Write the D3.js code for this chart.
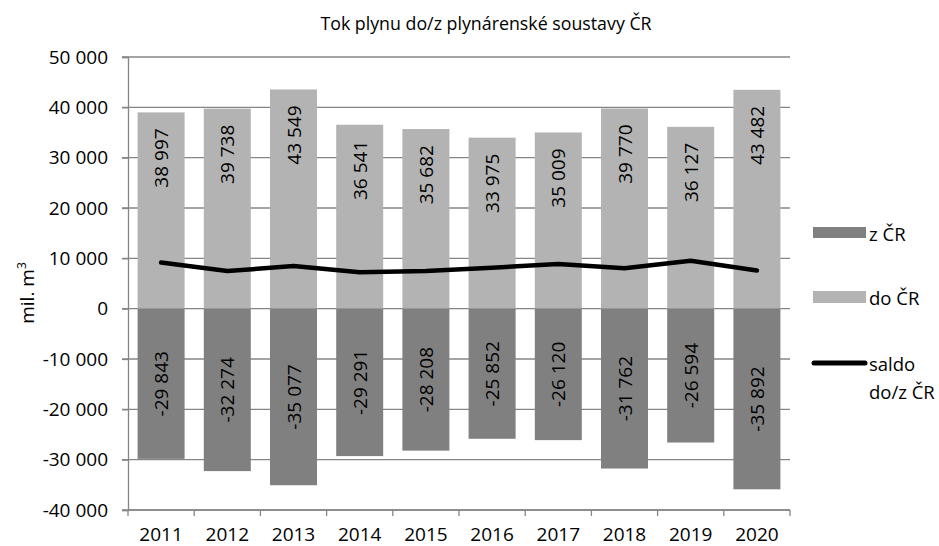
<!DOCTYPE html>
<html><head><meta charset="utf-8">
<script src="https://cdn.jsdelivr.net/npm/d3@7"></script>
<style>
body{margin:0;background:#fff;}
text{font-family:"Open Sans",sans-serif;fill:#000;}
</style></head>
<body><svg id="c" width="939" height="546"></svg>
<script>
const years = ["2011","2012","2013","2014","2015","2016","2017","2018","2019","2020"];
const doCR = [38997,39738,43549,36541,35682,33975,35009,39770,36127,43482];
const zCR = [-29843,-32274,-35077,-29291,-28208,-25852,-26120,-31762,-26594,-35892];
const saldo = [9154,7464,8472,7250,7474,8123,8889,8008,9533,7590];
const yTicks = [-40000,-30000,-20000,-10000,0,10000,20000,30000,40000,50000];
const title = "Tok plynu do/z plynárenské soustavy ČR";
const legendLabels = ["z ČR","do ČR",["saldo","do/z ČR"]];

const svg = d3.select("#c");
const L=128,R=790,T=57,B=510;
const x = d3.scaleBand().domain(years).range([L,R]).paddingInner(0.29).paddingOuter(0.145);
const y = d3.scaleLinear().domain([-40000,50000]).range([B,T]);
const fmt = v => d3.format(",")(v).replace(/,/g," ").replace(/\u2212/g,"-");
const gridC="#868686";
const FS = "19px";

// title
svg.append("text").attr("x",486).attr("y",30).attr("text-anchor","middle")
  .style("font-size","17.8px").text(title);

// gridlines
svg.append("g").selectAll("line").data(yTicks).join("line")
  .attr("x1",L-6).attr("x2",R).attr("y1",d=>y(d)).attr("y2",d=>y(d))
  .attr("stroke",gridC).attr("stroke-width",1.3);

// y axis
const ya = svg.append("g").attr("transform",`translate(${L},0)`)
  .call(d3.axisLeft(y).tickValues(yTicks).tickFormat(fmt).tickSize(6).tickPadding(14));
ya.select(".domain").attr("stroke",gridC).attr("stroke-width",1.3);
ya.selectAll(".tick line").attr("stroke",gridC).attr("stroke-width",1.3);
ya.selectAll(".tick text").style("font-size",FS).style("font-family","Open Sans").attr("fill","#000");

// bars
svg.append("g").selectAll("rect").data(doCR).join("rect")
  .attr("x",(d,i)=>x(years[i])).attr("width",x.bandwidth())
  .attr("y",d=>y(d)).attr("height",d=>y(0)-y(d)).attr("fill","#b3b3b3");
svg.append("g").selectAll("rect").data(zCR).join("rect")
  .attr("x",(d,i)=>x(years[i])).attr("width",x.bandwidth())
  .attr("y",y(0)).attr("height",d=>y(d)-y(0)).attr("fill","#808080");

// x axis
const xTickPos = years.map(d=>x(d)-x.step()*0.145).concat([R]);
svg.append("line").attr("x1",L).attr("x2",R).attr("y1",B).attr("y2",B).attr("stroke",gridC).attr("stroke-width",1.3);
svg.append("g").selectAll("line").data(xTickPos).join("line")
  .attr("x1",d=>d).attr("x2",d=>d).attr("y1",B).attr("y2",B+6).attr("stroke",gridC).attr("stroke-width",1.3);
svg.append("g").selectAll("text").data(years).join("text")
  .attr("x",d=>x(d)+x.bandwidth()/2).attr("y",541).attr("text-anchor","middle")
  .style("font-size",FS).text(d=>d);

// labels
const cx = i => x(years[i])+x.bandwidth()/2;
svg.append("g").selectAll("text").data(doCR).join("text")
  .attr("transform",(d,i)=>`translate(${cx(i)},${y(d)+16}) rotate(-90)`)
  .attr("text-anchor","end").attr("dominant-baseline","central")
  .style("font-size",FS).text(fmt);
svg.append("g").selectAll("text").data(zCR).join("text")
  .attr("transform",(d,i)=>`translate(${cx(i)},${(y(0)+y(d))/2}) rotate(-90)`)
  .attr("text-anchor","middle").attr("dominant-baseline","central")
  .style("font-size",FS).text(fmt);

// saldo line
svg.append("path").datum(saldo)
  .attr("d",d3.line().x((d,i)=>cx(i)).y(d=>y(d)))
  .attr("fill","none").attr("stroke","#000").attr("stroke-width",4.5)
  .attr("stroke-linecap","round").attr("stroke-linejoin","round");

// y title
const yt = svg.append("text").attr("transform","translate(34,293) rotate(-90)")
  .attr("text-anchor","middle").style("font-size","19px");
yt.append("tspan").text("mil. m");
yt.append("tspan").attr("dy",-8).style("font-size","12px").text("3");

// legend
const lg = svg.append("g");
const LF = "18.5px";
lg.append("rect").attr("x",813).attr("y",227).attr("width",53).attr("height",11).attr("fill","#808080");
lg.append("text").attr("x",869).attr("y",233).attr("dominant-baseline","central").style("font-size",LF).text(legendLabels[0]);
lg.append("rect").attr("x",813).attr("y",291).attr("width",53).attr("height",12).attr("fill","#b3b3b3");
lg.append("text").attr("x",869).attr("y",297).attr("dominant-baseline","central").style("font-size",LF).text(legendLabels[1]);
lg.append("line").attr("x1",814).attr("x2",865).attr("y1",363).attr("y2",363).attr("stroke","#000").attr("stroke-width",5).attr("stroke-linecap","round");
lg.append("text").attr("x",869).attr("y",363).attr("dominant-baseline","central").style("font-size",LF).text(legendLabels[2][0]);
lg.append("text").attr("x",869).attr("y",391).attr("dominant-baseline","central").style("font-size",LF).text(legendLabels[2][1]);
</script></body></html>
